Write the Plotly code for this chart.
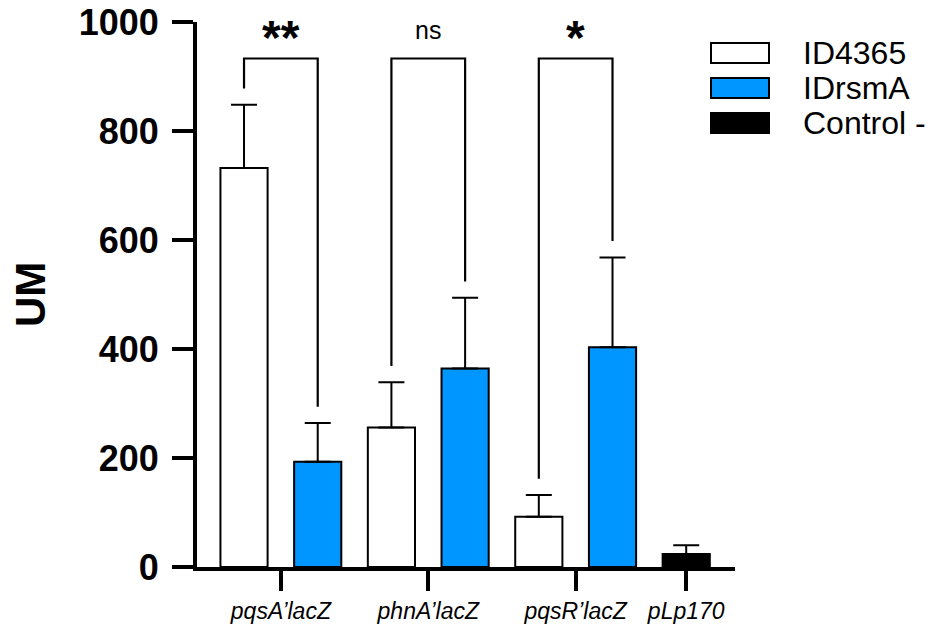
import plotly.graph_objects as go

# ---------------- data ----------------
categories = ["pqsA’lacZ", "phnA’lacZ", "pqsR’lacZ", "pLp170"]
series_names = ["ID4365", "IDrsmA", "Control -"]

id4365_mean = [732, 256, 92]
id4365_err = [116, 83, 40]
idrsma_mean = [193, 364, 403]
idrsma_err = [71, 130, 165]
control_mean = [24]
control_err = [16]

sig_labels = ["**", "ns", "*"]
y_ticks = [0, 200, 400, 600, 800, 1000]

# ---------------- layout constants ----------------
W, H = 942, 625
ML, MR, MT, MB = 197, 207, 22, 58
FONT = "Liberation Sans, Arial, Helvetica, sans-serif"
BLUE = "#0096FF"
BAR_W = 0.64

# slot positions: pairs for first three groups, one slot for control
white_x = [2 * i for i in range(len(id4365_mean))]
blue_x = [2 * i + 1 for i in range(len(idrsma_mean))]
ctrl_x = [2 * len(id4365_mean) + i for i in range(len(control_mean))]
tick_x = [(a + b) / 2 for a, b in zip(white_x, blue_x)] + ctrl_x

fig = go.Figure()

def add_bar(x, y, err, fill, name):
    fig.add_trace(go.Bar(
        x=x, y=y, name=name, width=BAR_W, showlegend=False,
        marker=dict(color=fill, line=dict(color="black", width=2)),
        error_y=dict(type="data", array=err, arrayminus=[0] * len(err),
                     symmetric=False, color="black", thickness=2, width=13),
    ))

add_bar(white_x, id4365_mean, id4365_err, "white", series_names[0])
add_bar(blue_x, idrsma_mean, idrsma_err, BLUE, series_names[1])
add_bar(ctrl_x, control_mean, control_err, "black", series_names[2])

# ---------------- significance brackets ----------------
bracket_top = 933
gap = 30
for i, lab in enumerate(sig_labels):
    x0, x1 = white_x[i], blue_x[i]
    y0 = id4365_mean[i] + id4365_err[i] + gap
    y1 = idrsma_mean[i] + idrsma_err[i] + gap
    fig.add_shape(type="path",
                  path=f"M {x0} {y0} L {x0} {bracket_top} L {x1} {bracket_top} L {x1} {y1}",
                  xref="x", yref="y", line=dict(color="black", width=2.2))
    if lab == "ns":
        fig.add_annotation(x=(x0 + x1) / 2, y=985, text=lab, showarrow=False,
                           xref="x", yref="y", yanchor="middle",
                           font=dict(family=FONT, size=25, color="black"))
    else:
        fig.add_annotation(x=(x0 + x1) / 2, y=985, text=f"<b>{lab}</b>", showarrow=False,
                           xref="x", yref="y", yanchor="middle", yshift=-7,
                           font=dict(family=FONT, size=48, color="black"))

# ---------------- manual legend (pixel -> paper) ----------------
plot_w = W - ML - MR
plot_h = H - MT - MB
def px_x(p):
    return (p - ML) / plot_w
def px_y(p):
    return (H - MB - p) / plot_h

leg_fill = ["white", BLUE, "black"]
row_centers = [53, 88, 123]
for name, fill, yc in zip(series_names, leg_fill, row_centers):
    fig.add_shape(type="rect", xref="paper", yref="paper",
                  x0=px_x(711), x1=px_x(769), y0=px_y(yc + 10), y1=px_y(yc - 10),
                  fillcolor=fill, line=dict(color="black", width=2))
    fig.add_annotation(xref="paper", yref="paper", x=px_x(801), y=px_y(yc),
                       xanchor="left", yanchor="middle", text=name, showarrow=False,
                       font=dict(family=FONT, size=32, color="black"))

# y-axis title
fig.add_annotation(xref="paper", yref="paper", x=px_x(30), y=px_y(295),
                   text="<b>UM</b>", textangle=-90, showarrow=False,
                   xanchor="center", yanchor="middle",
                   font=dict(family=FONT, size=42, color="black"))

fig.update_layout(
    width=W, height=H,
    margin=dict(l=ML, r=MR, t=MT, b=MB, pad=0, autoexpand=False),
    plot_bgcolor="white", paper_bgcolor="white",
    barmode="overlay",
    font=dict(family=FONT, color="black"),
    xaxis=dict(range=[-0.638, 6.662], tickvals=tick_x, automargin=False,
               ticktext=[f"<i>{c}</i>" for c in categories],
               tickfont=dict(family=FONT, size=23, color="black"),
               ticklabeloverflow="allow",
               showline=True, linecolor="black", linewidth=4,
               ticks="outside", ticklen=20, tickwidth=4, tickcolor="black",
               showgrid=False, zeroline=False),
    yaxis=dict(range=[0, 1000], tickvals=y_ticks, automargin=False,
               ticktext=[f"<b>{v}</b>" for v in y_ticks],
               tickfont=dict(family=FONT, size=36, color="black"),
               ticklabelstandoff=6, ticklabeloverflow="allow",
               showline=True, linecolor="black", linewidth=4,
               ticks="outside", ticklen=21, tickwidth=4, tickcolor="black",
               showgrid=False, zeroline=False),
)

fig.write_html("out.html", config={"displayModeBar": False},
               post_script="document.body.style.margin='0px';")
